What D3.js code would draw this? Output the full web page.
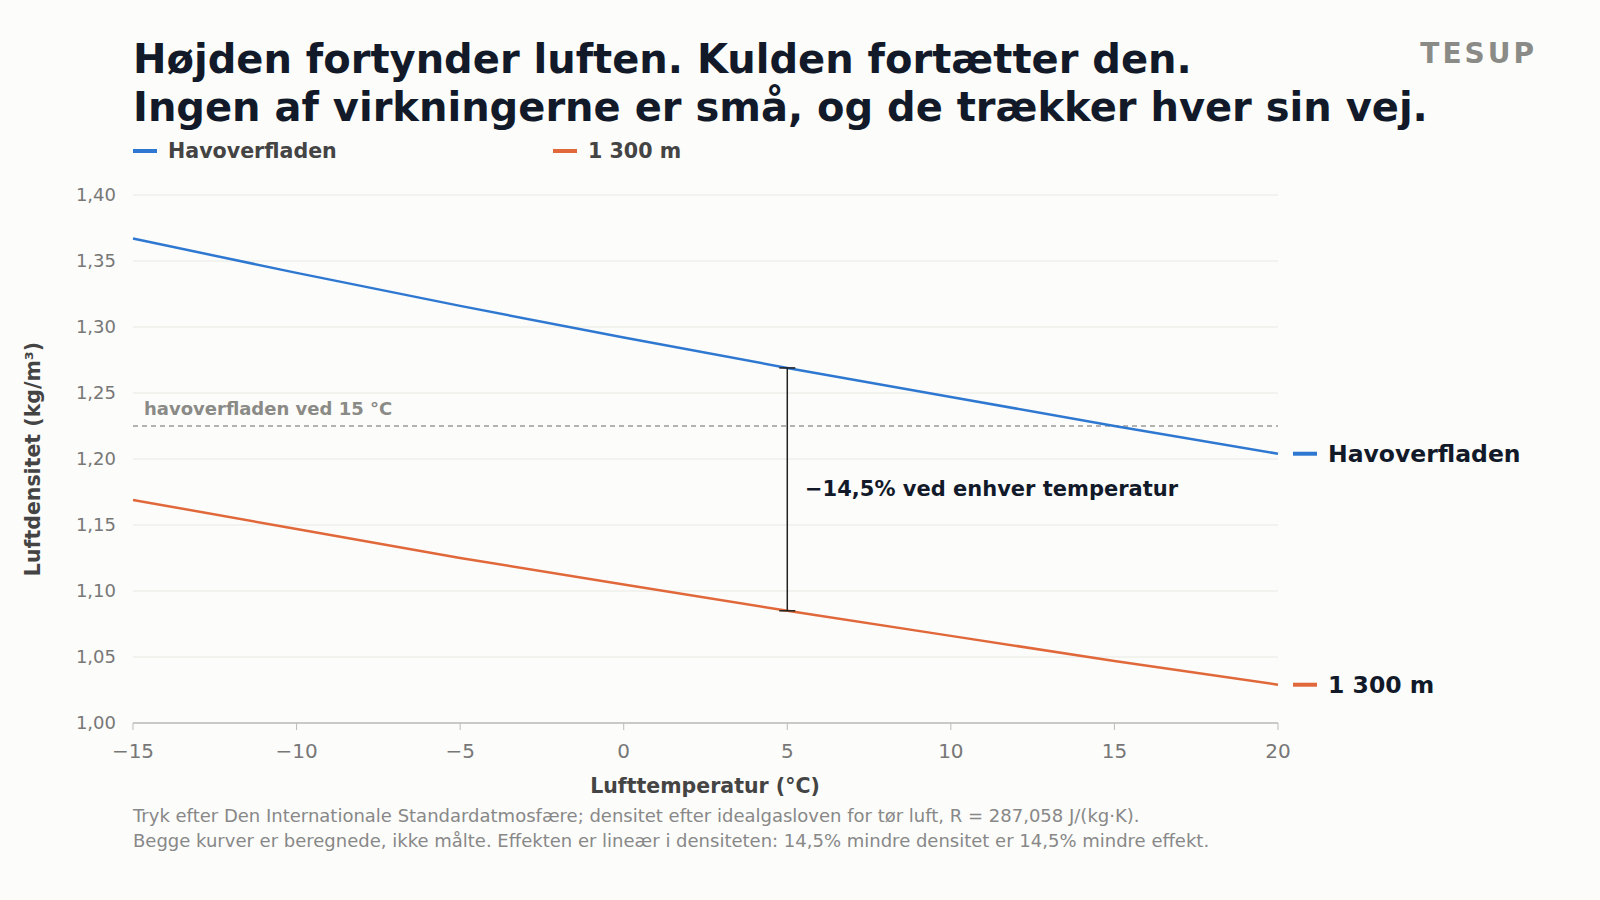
<!DOCTYPE html>
<html><head><meta charset="utf-8">
<script src="https://cdn.jsdelivr.net/npm/d3@7"></script>
<style>body{margin:0;background:#fcfcfa;font-family:"DejaVu Sans",sans-serif}</style>
</head><body><svg id="c" width="1600" height="900"></svg>
<script>
// values
var temps = [-15,-10,-5,0,5,10,15,20]
var seaLevel = [1.367,1.341,1.316,1.292,1.269,1.247,1.225,1.204]
var highUp = [1.169,1.147,1.125,1.105,1.085,1.066,1.047,1.029]
var yTicks = [1.00,1.05,1.10,1.15,1.20,1.25,1.30,1.35,1.40]
var xTicks = [-15,-10,-5,0,5,10,15,20]
var blue = "#2f78d1", orange = "#e0683a"

var svg = d3.select("#c")
var x = d3.scaleLinear().domain([-15,20]).range([133,1278])
var y = d3.scaleLinear().domain([1.0,1.4]).range([723,195])
var fmt = function(v){return v.toFixed(2).replace(".",",")}
var fmtX = function(v){return v<0 ? "\u2212"+Math.abs(v) : ""+v}

svg.append("text").attr("x",133).attr("y",73).attr("font-size",40).attr("font-weight","bold").attr("fill","#121a2a")
	.text("Højden fortynder luften. Kulden fortætter den.")
svg.append("text").attr("x",133).attr("y",121).attr("font-size",40).attr("font-weight","bold").attr("fill","#121a2a")
	.text("Ingen af virkningerne er små, og de trækker hver sin vej.")
svg.append("text").attr("x",1537).attr("y",63).attr("text-anchor","end").attr("font-size",28).attr("font-weight","bold")
	.attr("fill","#8a8a86").attr("letter-spacing",3).text("TESUP")

// legend
var leg = [{n:"Havoverfladen",c:blue,x:133},{n:"1 300 m",c:orange,x:553}]
leg.forEach(function(l){
	svg.append("line").attr("x1",l.x).attr("x2",l.x+24).attr("y1",151).attr("y2",151).attr("stroke",l.c).attr("stroke-width",4)
	svg.append("text").attr("x",l.x+35).attr("y",158).attr("font-size",20.6).attr("font-weight","bold").attr("fill","#444").text(l.n)
})

// grid
svg.selectAll(".g").data(yTicks).enter().append("line")
	.attr("x1",133).attr("x2",1278).attr("y1",d=>y(d)).attr("y2",d=>y(d)).attr("stroke","#e8e8e4")
svg.selectAll(".yl").data(yTicks).enter().append("text")
	.attr("x",116).attr("y",d=>y(d)+6).attr("text-anchor","end").attr("font-size",18).attr("fill","#777").text(fmt)
svg.append("line").attr("x1",133).attr("x2",1278).attr("y1",y(1)).attr("y2",y(1)).attr("stroke","#bbb").attr("stroke-width",1.5)
svg.selectAll(".xt").data(xTicks).enter().append("line")
	.attr("x1",d=>x(d)).attr("x2",d=>x(d)).attr("y1",y(1)).attr("y2",y(1)+7).attr("stroke","#bbb")
svg.selectAll(".xl").data(xTicks).enter().append("text")
	.attr("x",d=>x(d)).attr("y",758).attr("text-anchor","middle").attr("font-size",20).attr("fill","#777").text(fmtX)

svg.append("text").attr("x",705).attr("y",793).attr("text-anchor","middle").attr("font-size",20.5).attr("font-weight","bold").attr("fill","#444").text("Lufttemperatur (°C)")
svg.append("text").attr("transform","translate(40,459) rotate(-90)").attr("text-anchor","middle").attr("font-size",20.5).attr("font-weight","bold").attr("fill","#444").text("Luftdensitet (kg/m³)")

// reference line
svg.append("line").attr("x1",133).attr("x2",1278).attr("y1",y(1.225)).attr("y2",y(1.225)).attr("stroke","#999").attr("stroke-dasharray","5,4").attr("stroke-width",1.5)
svg.append("text").attr("x",144).attr("y",415).attr("font-size",18).attr("font-weight","bold").attr("fill","#8a8a86").text("havoverfladen ved 15 °C")

var line = d3.line().x((d,i)=>x(temps[i])).y(d=>y(d))
svg.append("path").datum(seaLevel).attr("d",line).attr("fill","none").attr("stroke",blue).attr("stroke-width",2.5)
svg.append("path").datum(highUp).attr("d",line).attr("fill","none").attr("stroke",orange).attr("stroke-width",2.5)

// difference bracket at 5°C
var i5 = temps.indexOf(5)
svg.append("line").attr("x1",x(5)).attr("x2",x(5)).attr("y1",y(seaLevel[i5])).attr("y2",y(highUp[i5])).attr("stroke","#222").attr("stroke-width",1.5)
;[seaLevel[i5],highUp[i5]].forEach(function(v){
	svg.append("line").attr("x1",x(5)-8).attr("x2",x(5)+8).attr("y1",y(v)).attr("y2",y(v)).attr("stroke","#222").attr("stroke-width",1.5)
})
svg.append("text").attr("x",805).attr("y",496).attr("font-size",21).attr("font-weight","bold").attr("fill","#121a2a").text("\u221214,5% ved enhver temperatur")

// end labels
var ends = [{v:seaLevel[7],c:blue,n:"Havoverfladen"},{v:highUp[7],c:orange,n:"1 300 m"}]
ends.forEach(function(e){
	svg.append("line").attr("x1",1293).attr("x2",1317).attr("y1",y(e.v)).attr("y2",y(e.v)).attr("stroke",e.c).attr("stroke-width",4)
	svg.append("text").attr("x",1328).attr("y",y(e.v)+8).attr("font-size",23.5).attr("font-weight","bold").attr("fill","#121a2a").text(e.n)
})

svg.append("text").attr("x",133).attr("y",822).attr("font-size",18).attr("fill","#888")
	.text("Tryk efter Den Internationale Standardatmosfære; densitet efter idealgasloven for tør luft, R = 287,058 J/(kg·K).")
svg.append("text").attr("x",133).attr("y",847).attr("font-size",18).attr("fill","#888")
	.text("Begge kurver er beregnede, ikke målte. Effekten er lineær i densiteten: 14,5% mindre densitet er 14,5% mindre effekt.")
</script></body></html>
